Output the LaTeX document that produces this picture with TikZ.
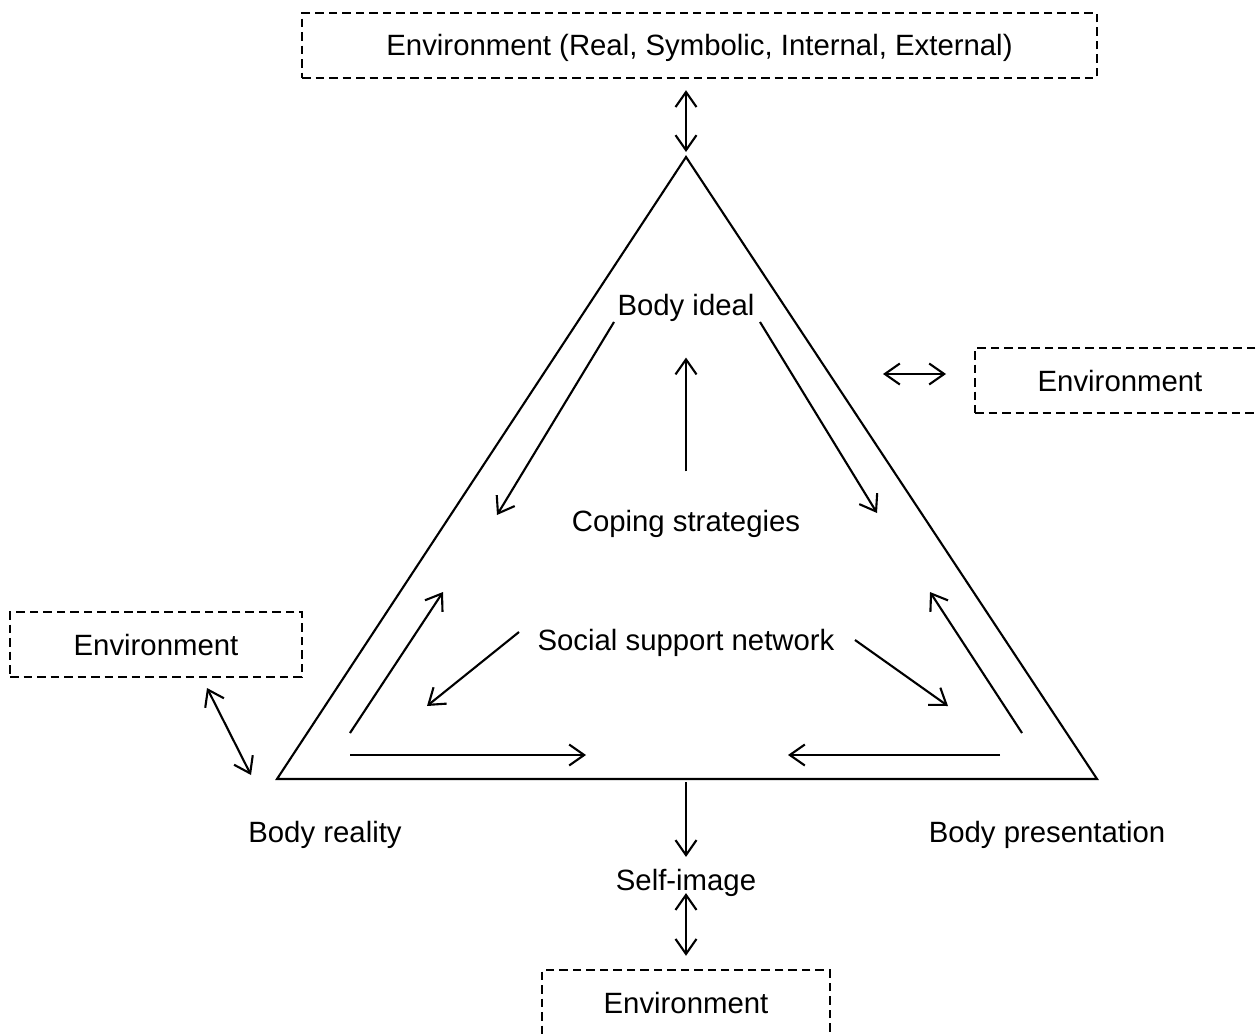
\documentclass[tikz,border=0pt]{standalone}
\usepackage{fontspec}
\setmainfont{Liberation Sans}
\usetikzlibrary{arrows.meta,positioning,calc}

\begin{document}
\begin{tikzpicture}[x=0.02cm, y=-0.02cm, line width=1.2pt,
    every node/.style={font=\fontsize{16.7}{20}\selectfont},
    envbox/.style={draw, line width=1.4pt, dash pattern=on 0.17cm off 0.1cm, anchor=base,
      text height=0.42cm, text depth=0pt, inner ysep=0.44cm},
    arr/.style={-{Straight Barb[length=0.3cm,width=0.42cm]}},
    dbl/.style={{Straight Barb[length=0.3cm,width=0.42cm]}-{Straight Barb[length=0.3cm,width=0.42cm]}}]
  \useasboundingbox (0,0) rectangle (1256,1034);
  \clip (0,0) rectangle (1256,1034);

  % triangle
  \coordinate (apex) at (686,157);
  \coordinate (left) at (277,779);
  \coordinate (right) at (1097,779);
  \coordinate (basemid) at (686,779);
  \draw (apex) -- (left) -- (right) -- cycle;

  % environment boxes
  \node[envbox, minimum width=15.9cm] (envtop) at (699.5,56) {Environment (Real, Symbolic, Internal, External)};
  \node[envbox, minimum width=5.8cm] (envright) at (1120,391) {Environment};
  \node[envbox, minimum width=5.84cm] (envleft) at (156,655) {Environment};
  \node[envbox, minimum width=5.76cm, text depth=2cm] (envbottom) at (686,1013) {Environment};

  % labels
  \node (ideal) at (686,308) {Body ideal};
  \node (coping) at (686,524) {Coping strategies};
  \node (support) at (686,643) {Social support network};
  \node (reality) at (325,835) {Body reality};
  \node (presentation) at (1047,835) {Body presentation};
  \node (selfimg) at (686,883) {Self-image};

  % free arrow ends
  \coordinate (il1) at (614,322);  \coordinate (il2) at (497,515);
  \coordinate (ir1) at (760,322);  \coordinate (ir2) at (877,513);
  \coordinate (ul1) at (350,733);  \coordinate (ul2) at (443,592);
  \coordinate (ur1) at (1022,733); \coordinate (ur2) at (930,592);
  \coordinate (sl1) at (519,632);  \coordinate (sl2) at (427,706);
  \coordinate (sr1) at (855,640);  \coordinate (sr2) at (948,706);
  \coordinate (bl1) at (350,755);  \coordinate (bl2) at (586,755);
  \coordinate (br1) at (1000,755); \coordinate (br2) at (788,755);
  \coordinate (er1) at (883,374);  \coordinate (er2) at (946,374);
  \coordinate (el1) at (207,688);  \coordinate (el2) at (251,775);

  \draw[arr, shorten <=0.64cm, shorten >=0.58cm] (coping) -- (ideal);
  \draw[arr] (il1) -- (il2);
  \draw[arr] (ir1) -- (ir2);
  \draw[arr] (ul1) -- (ul2);
  \draw[arr] (ur1) -- (ur2);
  \draw[arr] (sl1) -- (sl2);
  \draw[arr] (sr1) -- (sr2);
  \draw[arr] (bl1) -- (bl2);
  \draw[arr] (br1) -- (br2);

  \draw[dbl, shorten <=0.22cm, shorten >=0.1cm] (envtop.south -| apex) -- (apex);
  \draw[dbl] (er1) -- (er2);
  \draw[dbl] (el1) -- (el2);
  \draw[arr, shorten <=0.06cm, shorten >=0.11cm] (basemid) -- (selfimg);
  \draw[dbl, shorten <=-0.21cm, shorten >=0.26cm] (selfimg) -- (envbottom.north);
\end{tikzpicture}
\end{document}
